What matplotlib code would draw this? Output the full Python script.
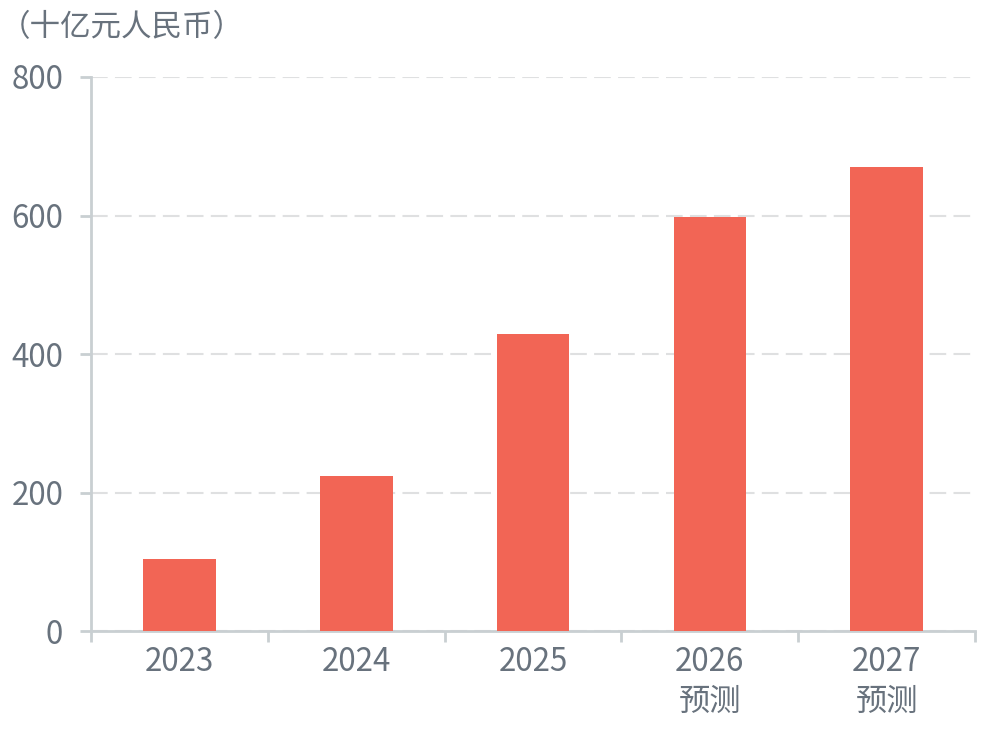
import numpy as np
import matplotlib
matplotlib.use("Agg")
import matplotlib.pyplot as plt

plt.rcParams["font.family"] = ["Noto Sans CJK SC", "DejaVu Sans"]

# Data
years = ["2023", "2024", "2025", "2026\n预测", "2027\n预测"]
values = [104, 224, 429, 598, 670]
yticks = [0, 200, 400, 600, 800]
unit_label = "（十亿元人民币）"

bar_color = "#F26555"
text_color = "#68727D"
axis_color = "#C9CFD2"
grid_color = "#DFE0E1"

fig = plt.figure(figsize=[9.84, 7.33], dpi=100)
ax = fig.add_axes([0.0925, 0.139, 0.8985, 0.756])

x = np.arange(len(years))
ax.bar(x, values, width=0.41, color=bar_color, zorder=3)

ax.set_xlim(-0.5, len(years) - 0.5)
ax.set_ylim(0, 800)

# Axis labelling
ax.set_yticks(yticks)
ax.set_yticklabels([str(t) for t in yticks], fontsize=22.5, color=text_color)
ax.set_xticks(x)
ax.set_xticklabels(years, fontsize=22.5, color=text_color, linespacing=1.3)
ax.set_xticks(np.arange(len(years) + 1) - 0.5, minor=True)

ax.tick_params(axis="x", which="major", length=0, pad=11)
ax.tick_params(axis="x", which="minor", length=8, width=2, color=axis_color)
ax.tick_params(axis="y", length=8, width=2, color=axis_color, pad=12)

# Grid and spines
ax.yaxis.grid(True, color=grid_color, linestyle=(0, (8, 3.5)), linewidth=1.5, zorder=0)
for s in ["top", "right"]:
    ax.spines[s].set_visible(False)
for s in ["left", "bottom"]:
    ax.spines[s].set_color(axis_color)
    ax.spines[s].set_linewidth(2)

fig.text(0.0, 0.962, unit_label, fontsize=22, color=text_color, va="center", ha="left")

plt.savefig("out.png", dpi=100)
